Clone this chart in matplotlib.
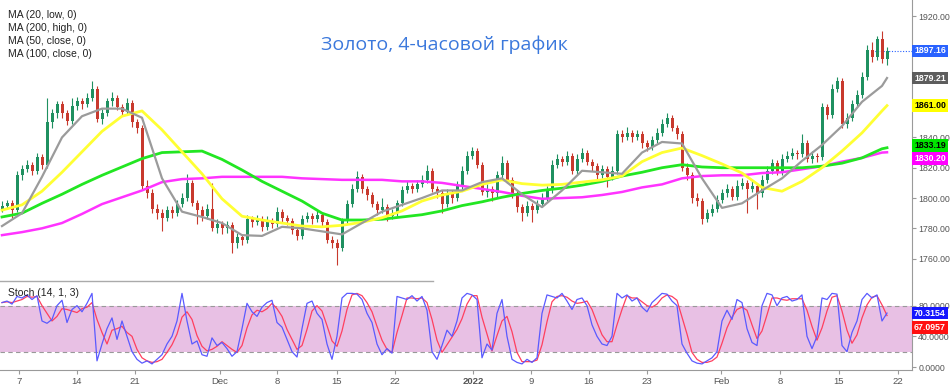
import numpy as np
import matplotlib
matplotlib.use("Agg")
import matplotlib.pyplot as plt
from matplotlib.lines import Line2D

plt.rcParams["font.family"] = ["Liberation Sans", "DejaVu Sans"]

# --- candles (4h, thinned), price in USD ---
first_open = 1793
closes = [
    1795, 1797, 1792, 1815, 1819, 1822, 1818, 1827, 1822, 1850,
    1856, 1862, 1856, 1851, 1861, 1864, 1862, 1866, 1872, 1852,
    1856, 1864, 1866, 1860, 1857, 1863, 1850, 1846, 1808, 1803,
    1793, 1790, 1787, 1792, 1790, 1796, 1800, 1810, 1797, 1792,
    1788, 1793, 1780, 1783, 1780, 1782, 1770, 1774, 1772, 1786,
    1784, 1786, 1781, 1785, 1783, 1791, 1787, 1785, 1779, 1775,
    1786, 1788, 1786, 1789, 1784, 1772, 1770, 1767, 1785, 1796,
    1806, 1814, 1806, 1802, 1796, 1792, 1794, 1788, 1790, 1797,
    1805, 1808, 1806, 1809, 1812, 1818, 1806, 1803, 1796, 1803,
    1800, 1808, 1818, 1828, 1831, 1822, 1804, 1806, 1803, 1815,
    1823, 1812, 1803, 1794, 1790, 1795, 1792, 1796, 1800, 1805,
    1822, 1826, 1824, 1828, 1818, 1826, 1830, 1824, 1821, 1815,
    1819, 1814, 1818, 1842, 1840, 1843, 1840, 1842, 1836, 1834,
    1838, 1843, 1849, 1853, 1846, 1842, 1820, 1815, 1800, 1798,
    1786, 1790, 1793, 1799, 1803, 1806, 1801, 1808, 1810, 1806,
    1808, 1803, 1812, 1818, 1823, 1817, 1826, 1828, 1830, 1829,
    1836, 1826, 1828, 1827, 1860, 1855, 1872, 1877, 1849, 1853,
    1862, 1868, 1880, 1898, 1893, 1905, 1892, 1897.16]
highs = [
    1798, 1799, 1799, 1818, 1822, 1825, 1824, 1830, 1829, 1866,
    1859, 1864, 1864, 1858, 1866, 1867, 1866, 1869, 1877, 1874,
    1859, 1866, 1870, 1868, 1862, 1866, 1865, 1852, 1848, 1812,
    1806, 1796, 1793, 1795, 1795, 1799, 1803, 1816, 1812, 1799,
    1795, 1796, 1810, 1786, 1785, 1785, 1784, 1777, 1776, 1789,
    1788, 1789, 1788, 1788, 1787, 1794, 1793, 1789, 1787, 1781,
    1789, 1791, 1790, 1792, 1791, 1786, 1775, 1773, 1787, 1799,
    1809, 1818, 1816, 1808, 1804, 1798, 1800, 1796, 1793, 1799,
    1808, 1811, 1810, 1812, 1815, 1822, 1820, 1808, 1805, 1806,
    1805, 1811, 1821, 1831, 1834, 1833, 1824, 1809, 1808, 1818,
    1828, 1825, 1814, 1805, 1796, 1798, 1797, 1799, 1803, 1808,
    1825, 1829, 1828, 1831, 1830, 1829, 1833, 1832, 1826, 1823,
    1822, 1821, 1821, 1845, 1845, 1847, 1845, 1845, 1844, 1838,
    1841, 1846, 1852, 1856, 1855, 1848, 1844, 1823, 1817, 1803,
    1800, 1793, 1796, 1802, 1806, 1809, 1808, 1812, 1813, 1812,
    1811, 1810, 1815, 1821, 1826, 1825, 1829, 1831, 1833, 1832,
    1842, 1838, 1831, 1830, 1863, 1862, 1875, 1880, 1879, 1856,
    1865, 1871, 1883, 1901, 1903, 1907, 1910, 1900]
lows = [
    1791, 1793, 1787, 1791, 1812, 1817, 1815, 1816, 1819, 1820,
    1846, 1853, 1853, 1848, 1849, 1858, 1859, 1860, 1864, 1850,
    1849, 1854, 1861, 1858, 1854, 1855, 1847, 1843, 1805, 1800,
    1790, 1786, 1778, 1785, 1787, 1788, 1794, 1798, 1795, 1783,
    1785, 1786, 1778, 1777, 1776, 1777, 1764, 1767, 1769, 1770,
    1781, 1782, 1778, 1779, 1780, 1781, 1784, 1782, 1776, 1772,
    1773, 1784, 1783, 1784, 1781, 1770, 1767, 1756, 1765, 1783,
    1794, 1804, 1803, 1799, 1794, 1789, 1790, 1785, 1786, 1788,
    1795, 1803, 1803, 1804, 1807, 1810, 1804, 1800, 1790, 1794,
    1797, 1798, 1806, 1816, 1826, 1820, 1802, 1801, 1798, 1801,
    1813, 1810, 1800, 1791, 1785, 1788, 1784, 1790, 1794, 1798,
    1803, 1820, 1821, 1822, 1816, 1816, 1824, 1822, 1818, 1812,
    1813, 1807, 1812, 1816, 1837, 1838, 1837, 1838, 1833, 1831,
    1832, 1836, 1841, 1847, 1844, 1839, 1818, 1812, 1797, 1795,
    1783, 1784, 1788, 1791, 1797, 1801, 1799, 1799, 1806, 1790,
    1804, 1793, 1801, 1810, 1816, 1815, 1815, 1824, 1826, 1826,
    1827, 1824, 1823, 1824, 1825, 1852, 1853, 1870, 1846, 1846,
    1851, 1860, 1866, 1878, 1890, 1891, 1889, 1888]

# --- moving averages, read every 4th candle + last ---
ma_x = list(range(0, 177, 4)) + [177]
ma20_low = [
    1781.5, 1790, 1814, 1840, 1854, 1859, 1859, 1853, 1813, 1791,
    1787.5, 1783.5, 1775.5, 1775, 1781, 1780, 1778, 1776, 1783.5, 1791,
    1795.5, 1800, 1805, 1805, 1810.5, 1813, 1802.5, 1794, 1805, 1818,
    1817, 1816, 1830, 1837, 1836, 1813, 1793.5, 1796.5, 1805, 1813,
    1824.5, 1835, 1847.5, 1863.5, 1874, 1879.21]
ma50_close = [
    1792, 1795.5, 1804.5, 1817, 1830.5, 1844, 1854, 1857.5, 1845, 1830.5,
    1816, 1799.5, 1788, 1785.5, 1783.5, 1781.5, 1781, 1782, 1784, 1787,
    1791.5, 1798, 1802, 1804.5, 1809, 1812, 1809.5, 1808.5, 1809, 1810.5,
    1812, 1814.5, 1824, 1830, 1833, 1828, 1822.5, 1816.5, 1807, 1804.5,
    1811, 1820, 1831, 1843, 1857.5, 1861.00]
ma100_close = [
    1787.5, 1790, 1796.5, 1802.5, 1809, 1815, 1820.5, 1826, 1830, 1830.5,
    1831, 1825.5, 1818.5, 1811, 1804.5, 1798, 1790, 1785.5, 1785.5, 1786,
    1787.5, 1789, 1791.5, 1795, 1797.5, 1800.5, 1803, 1805, 1806.5, 1808.5,
    1811, 1814.5, 1817, 1820, 1822, 1820.5, 1820, 1820, 1820, 1820,
    1820, 1821, 1823, 1826.5, 1832.5, 1833.19]
ma200_high = [
    1775.5, 1777.5, 1780, 1783.5, 1789.5, 1796, 1800.5, 1805, 1810.5, 1812.5,
    1813, 1814, 1814, 1814, 1814, 1813, 1812.5, 1812, 1812, 1812,
    1811, 1811, 1810, 1808, 1806, 1804, 1801.5, 1799.5, 1800, 1800.5,
    1802, 1804, 1807, 1809, 1813, 1814.5, 1815, 1815, 1816.5, 1817,
    1819, 1821, 1824, 1826.5, 1830, 1830.20]

# --- stochastic (14, 1, 3) ---
stoch_k = [
    84, 86, 82, 92, 90, 94, 88, 93, 60, 57,
    62, 80, 87, 58, 75, 80, 72, 83, 96, 8,
    30, 50, 64, 36, 60, 40, 20, 10, 5, 8,
    4, 10, 16, 30, 40, 60, 96, 60, 30, 34,
    16, 14, 38, 28, 32, 24, 14, 20, 50, 83,
    72, 66, 78, 84, 87, 58, 52, 36, 20, 13,
    50, 83, 86, 70, 62, 30, 10, 40, 90, 96,
    96, 95, 88, 70, 58, 30, 16, 24, 18, 92,
    90, 88, 93, 86, 92, 74, 20, 10, 28, 48,
    40, 60, 90, 96, 94, 88, 12, 30, 22, 70,
    88, 40, 10, 6, 4, 10, 6, 12, 70, 94,
    92, 90, 96, 86, 75, 88, 90, 80, 55, 40,
    30, 28, 40, 96, 90, 94, 86, 90, 78, 72,
    84, 90, 96, 95, 86, 80, 30, 18, 8, 5,
    4, 8, 12, 20, 60, 74, 62, 88, 84, 50,
    32, 28, 80, 96, 94, 80, 90, 92, 86, 88,
    94, 40, 24, 40, 90, 88, 96, 95, 28, 20,
    45, 60, 88, 96, 90, 94, 60, 70.3154]
stoch_d = [
    84, 85, 84, 86, 88, 92, 91, 92, 80, 70,
    60, 66, 76, 75, 73, 71, 76, 78, 84, 62,
    45, 30, 48, 50, 53, 45, 40, 23, 12, 8,
    6, 7, 10, 19, 29, 43, 65, 72, 62, 41,
    27, 21, 23, 27, 33, 28, 23, 19, 28, 51,
    68, 74, 72, 76, 83, 76, 66, 49, 36, 23,
    28, 49, 73, 80, 73, 54, 34, 27, 47, 75,
    94, 96, 93, 84, 72, 53, 35, 23, 19, 45,
    67, 90, 90, 89, 90, 84, 62, 35, 19, 29,
    39, 49, 63, 82, 93, 93, 65, 43, 21, 41,
    60, 66, 46, 19, 7, 7, 7, 9, 29, 59,
    85, 92, 93, 91, 86, 83, 84, 86, 75, 58,
    42, 33, 33, 55, 75, 93, 90, 90, 85, 80,
    78, 82, 90, 94, 92, 87, 65, 43, 19, 10,
    6, 6, 8, 13, 31, 51, 65, 75, 78, 74,
    55, 37, 47, 68, 90, 90, 88, 87, 89, 89,
    89, 74, 53, 35, 51, 73, 91, 93, 73, 48,
    31, 42, 64, 81, 91, 93, 81, 67.0957]

tick_pos = [3.4, 15.0, 26.6, 43.6, 55.0, 67.0, 78.6, 94.2,
            105.8, 117.4, 129.0, 143.8, 155.6, 167.4, 179.2]
tick_lbl = ["7", "14", "21", "Dec", "8", "15", "22", "2022",
            "9", "16", "23", "Feb", "8", "15", "22"]
price_ticks = [1760, 1780, 1800, 1820, 1840, 1920]  # others hidden behind tags
legend_lbl = ["MA (20, low, 0)", "MA (200, high, 0)",
              "MA (50, close, 0)", "MA (100, close, 0)"]

UP, DN = "#1f9060", "#c8392d"
AXC, TXT = "#9a9a9a", "#555555"
FS = 6.3

fig = plt.figure(figsize=(9.5, 3.9), dpi=100)
ax = fig.add_axes([0, 0.277, 0.96, 0.723])
sx = fig.add_axes([0, 0.0513, 0.96, 0.223], sharex=ax)

# candles
c = np.array(closes, float)
o = np.r_[first_open, c[:-1]]
h = np.array(highs, float)
l = np.array(lows, float)
x = np.arange(len(c))
col = np.where(c >= o, UP, DN)
ax.vlines(x, l, h, colors=col, lw=0.8, zorder=2)
body = np.where(np.abs(c - o) < 0.6, 0.6, c - o)
ax.bar(x, body, bottom=o, width=0.6, color=col, lw=0, zorder=3)

# moving averages
ax.plot(ma_x, ma200_high, color="#ff33ff", lw=1.8, zorder=4)
ax.plot(ma_x, ma100_close, color="#22e622", lw=2.0, zorder=4)
ax.plot(ma_x, ma50_close, color="#ffff33", lw=2.0, zorder=4)
ax.plot(ma_x, ma20_low, color="#9b9b9b", lw=1.6, zorder=5)

ax.hlines(closes[-1], 174, 182, colors="#2962ff", linestyles=(0, (1, 1.5)), lw=0.8)

ax.set_xlim(-0.4, 182.0)
ax.set_ylim(1744.6, 1930.7)
ax.yaxis.tick_right()
ax.set_yticks(price_ticks)
ax.set_yticklabels([f"{v:.2f}" for v in price_ticks])
ax.tick_params(axis="y", labelsize=FS, colors=AXC, labelcolor=TXT, length=3, pad=1.5)
ax.tick_params(axis="x", bottom=False, labelbottom=False)
for s in ["top", "left", "bottom"]:
    ax.spines[s].set_visible(False)
ax.spines["right"].set_color(AXC)

# price tags on the right axis
tags = [(closes[-1], "#2962ff", "white", 0),
        (ma20_low[-1], "#5d5d5d", "white", 0),
        (ma50_close[-1], "#ffff00", "black", 0),
        (ma100_close[-1], "#00e600", "black", 1.5),
        (ma200_high[-1], "#ff00ff", "white", -4.5)]
for val, bg, fg, dy in tags:
    ax.annotate(f"{val:.2f}", xy=(1, val), xycoords=ax.get_yaxis_transform(),
                xytext=(1.5, dy), textcoords="offset points", va="center", ha="left",
                fontsize=FS, color=fg, weight="bold", annotation_clip=False,
                bbox=dict(boxstyle="square,pad=0.2", fc=bg, ec="none"))

# stochastic panel
sx.axhspan(20, 80, color="#e8c0e4", lw=0, zorder=0)
sx.axhline(80, color="#999999", lw=0.8, ls=(0, (4, 3)))
sx.axhline(20, color="#999999", lw=0.8, ls=(0, (4, 3)))
sx.plot(x, stoch_d, color="#ff3f5f", lw=0.9, zorder=3)
sx.plot(x, stoch_k, color="#5a5aff", lw=0.9, zorder=4)
sx.set_ylim(-3.9, 109.5)
sx.yaxis.tick_right()
sx.set_yticks([0, 40, 80])
sx.set_yticklabels(["0.0000", "40.0000", "80.0000"])
sx.tick_params(axis="y", labelsize=FS, colors=AXC, labelcolor=TXT, length=3, pad=1.5)
sx.set_xticks(tick_pos)
sx.set_xticklabels(tick_lbl)
sx.tick_params(axis="x", labelsize=6.8, colors=AXC, labelcolor=TXT, length=3, pad=2)
for t in sx.get_xticklabels():
    if t.get_text() == "2022":
        t.set_fontweight("bold")
for s in ["top", "left"]:
    sx.spines[s].set_visible(False)
sx.spines["right"].set_color(AXC)
sx.spines["bottom"].set_color(AXC)

for val, bg, dy in [(stoch_k[-1], "#1515ff", 0), (stoch_d[-1], "#ff1010", -8.5)]:
    sx.annotate(f"{val:.4f}", xy=(1, val), xycoords=sx.get_yaxis_transform(),
                xytext=(1.5, dy), textcoords="offset points", va="center", ha="left",
                fontsize=FS, color="white", weight="bold", annotation_clip=False,
                bbox=dict(boxstyle="square,pad=0.2", fc=bg, ec="none"))

# labels and title
for k, txt in enumerate(legend_lbl):
    fig.text(8 / 950, 1 - (15 + 13 * k) / 390, txt, fontsize=7.5, color="#222222", va="center")
fig.text(8 / 950, 1 - 293 / 390, "Stoch (14, 1, 3)", fontsize=7.5, color="#222222", va="center")
fig.text(0.468, 1 - 45 / 390, "Золото, 4-часовой график", fontsize=14,
         color="#3b78dc", ha="center", va="center", family=["Open Sans", "DejaVu Sans"])
fig.add_artist(Line2D([0, 433 / 950], [1 - 281 / 390] * 2, color="#aaaaaa", lw=1))

fig.savefig("out.png", dpi=100)
plt.close(fig)
